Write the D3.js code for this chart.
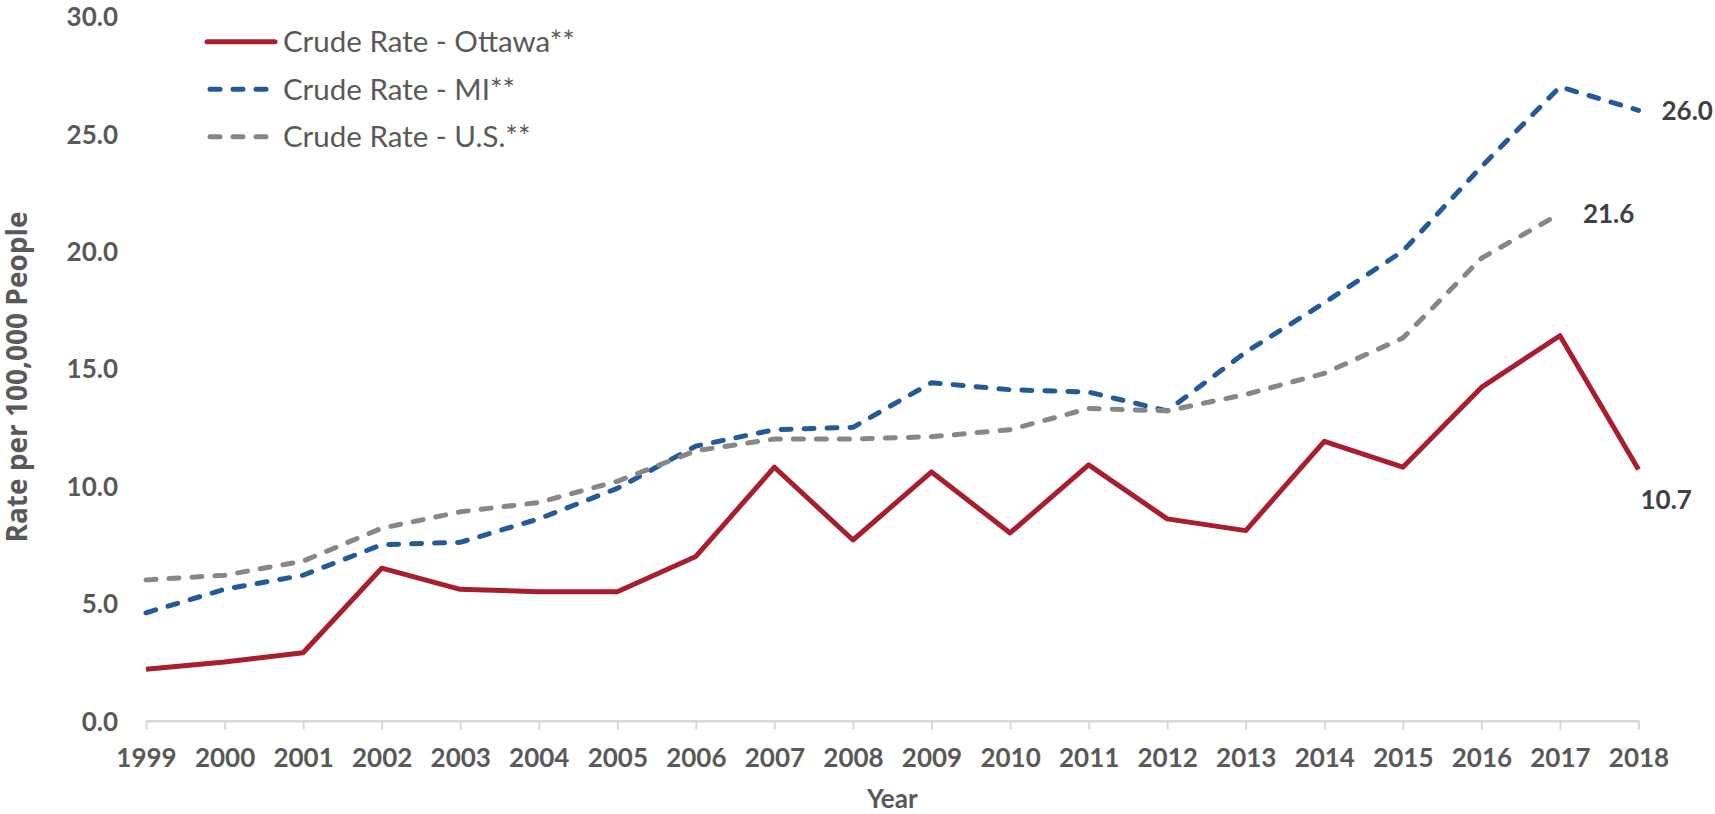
<!DOCTYPE html>
<html>
<head>
<meta charset="utf-8">
<script src="https://cdn.jsdelivr.net/npm/d3@7"></script>
<style>
  html, body { margin: 0; padding: 0; background: #ffffff; }
  svg { display: block; }
</style>
</head>
<body>
<svg id="chart" width="1715" height="814"></svg>
<script>
// Crude rate per 100,000 people, 1999–2018
const years = [1999, 2000, 2001, 2002, 2003, 2004, 2005, 2006, 2007, 2008,
               2009, 2010, 2011, 2012, 2013, 2014, 2015, 2016, 2017, 2018];
const ottawa = [2.2, 2.5, 2.9, 6.5, 5.6, 5.5, 5.5, 7.0, 10.8, 7.7,
                10.6, 8.0, 10.9, 8.6, 8.1, 11.9, 10.8, 14.2, 16.4, 10.7];
const michigan = [4.6, 5.6, 6.2, 7.5, 7.6, 8.6, 9.9, 11.7, 12.4, 12.5,
                  14.4, 14.1, 14.0, 13.2, 15.7, 17.8, 20.0, 23.6, 27.0, 26.0];
const unitedStates = [6.0, 6.2, 6.8, 8.2, 8.9, 9.3, 10.2, 11.5, 12.0, 12.0,
                      12.1, 12.4, 13.3, 13.2, 13.9, 14.8, 16.3, 19.7, 21.6, null];
const seriesNames = ["Crude Rate - Ottawa**", "Crude Rate - MI**", "Crude Rate - U.S.**"];
const yTicks = [0, 5, 10, 15, 20, 25, 30];

const series = [
  { name: seriesNames[0], values: ottawa,       color: "#A91E2E", dash: null },
  { name: seriesNames[1], values: michigan,     color: "#255A98", dash: "10,13" },
  { name: seriesNames[2], values: unitedStates, color: "#878787", dash: "10,13" }
];

const svg = d3.select("#chart");
const textColor = "#595959";

const x = d3.scalePoint().domain(years).range([146, 1638.5]);
const y = d3.scaleLinear().domain([0, 30]).range([720.8, 16.4]);

// Y axis: labels only
const yAxis = svg.append("g")
  .attr("transform", `translate(${x.range()[0]},0)`)
  .call(d3.axisLeft(y).tickValues(yTicks).tickFormat(d3.format(".1f")).tickSize(0).tickPadding(28));
yAxis.select(".domain").remove();
yAxis.selectAll("text")
  .attr("dy", "0.36em")
  .attr("fill", textColor)
  .style("font-family", "Lato, sans-serif")
  .style("font-weight", "700")
  .style("font-size", "26px");

// X axis: light baseline with tick marks between labels
const xAxis = svg.append("g")
  .attr("transform", `translate(0,${y(0)})`)
  .call(d3.axisBottom(x).tickSize(9).tickSizeOuter(0).tickPadding(19));
xAxis.select(".domain").attr("stroke", "#d9d9d9").attr("stroke-width", 2.5);
xAxis.selectAll(".tick line").attr("stroke", "#d9d9d9").attr("stroke-width", 2);
xAxis.selectAll("text")
  .attr("fill", textColor)
  .style("font-family", "Lato, sans-serif")
  .style("font-weight", "700")
  .style("font-size", "26px");

// Axis titles
svg.append("text")
  .attr("x", (x.range()[0] + x.range()[1]) / 2)
  .attr("y", 799)
  .attr("dy", "0.36em")
  .attr("text-anchor", "middle")
  .attr("fill", textColor)
  .style("font-family", "Lato, sans-serif")
  .style("font-weight", "700")
  .style("font-size", "26px")
  .text("Year");

svg.append("text")
  .attr("transform", "translate(17,377) rotate(-90)")
  .attr("dy", "0.36em")
  .attr("text-anchor", "middle")
  .attr("fill", textColor)
  .style("font-family", "'Open Sans', sans-serif")
  .style("font-weight", "700")
  .style("font-size", "28px")
  .text("Rate per 100,000 People");

// Series lines
const line = d3.line()
  .defined(d => d.v != null)
  .x(d => x(d.year))
  .y(d => y(d.v));

series.forEach(s => {
  const pts = years.map((yr, i) => ({ year: yr, v: s.values[i] }));
  svg.append("path")
    .datum(pts)
    .attr("d", line)
    .attr("fill", "none")
    .attr("stroke", s.color)
    .attr("stroke-width", 5)
    .attr("stroke-linejoin", "round")
    .attr("stroke-linecap", s.dash ? "round" : "butt")
    .attr("stroke-dasharray", s.dash);
});

// End-of-series value labels
function lastPoint(values) {
  for (let i = values.length - 1; i >= 0; i--) {
    if (values[i] != null) return { year: years[i], v: values[i] };
  }
}
const labelStyle = sel => sel
  .attr("fill", "#404040")
  .style("font-family", "Lato, sans-serif")
  .style("font-weight", "700")
  .style("font-size", "26px");

const miEnd = lastPoint(michigan);
svg.append("text")
  .attr("x", x(miEnd.year) + 23).attr("y", y(miEnd.v)).attr("dy", "0.36em")
  .call(labelStyle).text(miEnd.v.toFixed(1));

const usEnd = lastPoint(unitedStates);
svg.append("text")
  .attr("x", x(usEnd.year) + 23).attr("y", y(usEnd.v)).attr("dy", "0.36em")
  .call(labelStyle).text(usEnd.v.toFixed(1));

const otEnd = lastPoint(ottawa);
svg.append("text")
  .attr("x", x(otEnd.year) + 2).attr("y", y(otEnd.v) + 30).attr("dy", "0.36em")
  .call(labelStyle).text(otEnd.v.toFixed(1));

// Legend
const legend = svg.append("g").attr("transform", "translate(207,41.7)");
const item = legend.selectAll("g")
  .data(series)
  .join("g")
  .attr("transform", (d, i) => `translate(0,${i * 47.5})`);
item.append("line")
  .attr("x1", d => d.dash ? 3 : 0)
  .attr("x2", d => d.dash ? 65 : 68)
  .attr("y1", 0).attr("y2", 0)
  .attr("stroke", d => d.color)
  .attr("stroke-width", 5)
  .attr("stroke-linecap", "round")
  .attr("stroke-dasharray", d => d.dash);
item.append("text")
  .attr("x", 76)
  .attr("dy", "0.36em")
  .attr("fill", textColor)
  .style("font-family", "Lato, sans-serif")
  .style("font-size", "29.5px")
  .text(d => d.name);
</script>
</body>
</html>
